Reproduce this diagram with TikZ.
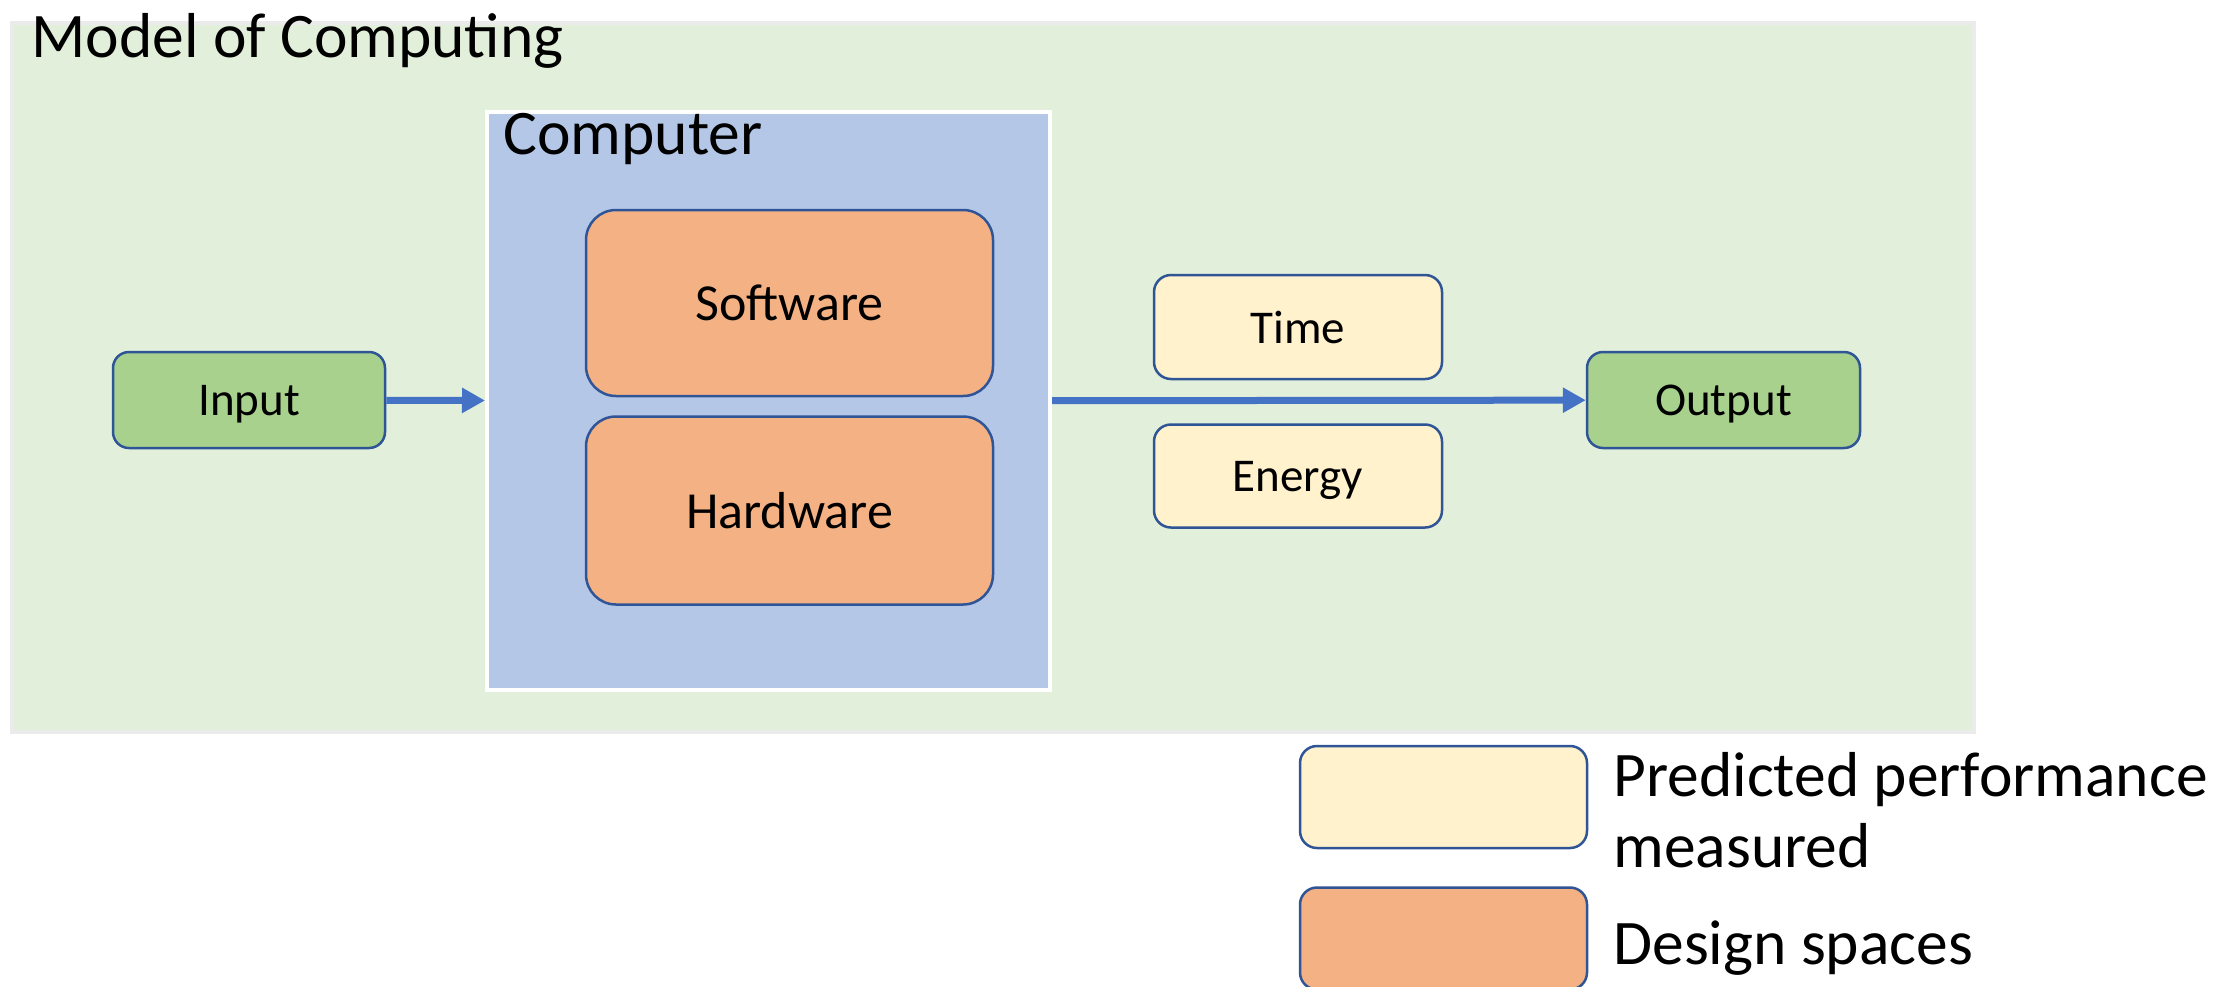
\documentclass[tikz,border=0pt]{standalone}
\usepackage{fontspec}
\setmainfont{Carlito}
\usetikzlibrary{arrows.meta,positioning}

\definecolor{fondo}{HTML}{E2EFDA}
\definecolor{bordefondo}{HTML}{EBEBEB}
\definecolor{azulcomp}{HTML}{B4C7E7}
\definecolor{naranja}{HTML}{F4B183}
\definecolor{crema}{HTML}{FFF2CC}
\definecolor{verde}{HTML}{A9D18E}
\definecolor{borde}{HTML}{2F5597}
\definecolor{azulflecha}{HTML}{4472C4}

\tikzset{
  caja/.style={draw=borde,line width=1.25pt,inner sep=0pt,text depth=0pt},
  iobox/.style={caja,fill=verde,rounded corners=8pt,minimum width=136pt,minimum height=48pt,font=\fontsize{23.5}{28}\selectfont},
  perfbox/.style={caja,fill=crema,rounded corners=8.5pt,minimum width=144pt,minimum height=52pt,font=\fontsize{23.5}{28}\selectfont},
  designbox/.style={caja,fill=naranja,rounded corners=15pt,minimum width=203.5pt,minimum height=93pt,font=\fontsize{26}{30}\selectfont},
  titulo/.style={inner sep=0pt,font=\fontsize{31.75}{35.5}\selectfont},
  link/.style={-{Triangle[length=11.5pt,width=12pt]},azulflecha,line width=3.5pt}
}

\begin{document}
\begin{tikzpicture}[x=0.5pt,y=-0.5pt]
        \useasboundingbox (0,0) rectangle (2236,986);

        % Fondo
        \draw[bordefondo,line width=2pt,fill=fondo] (12,23) rectangle (1974,732);
        \node[titulo,anchor=base west] (modelo) at (31,57) {Model of Computing};

        % Computadora
        \node[draw=white,line width=2pt,fill=azulcomp,minimum width=281.5pt,minimum height=289pt,inner sep=0pt] (comp) at (768.5,401) {};
        \node[titulo,anchor=base west] (complabel) at (503,154) {Computer};
        \node[designbox] (sw) at (789.5,303) {Software};
        \node[designbox,minimum height=94pt,below=9pt of sw] (hw) {Hardware};

        % Entrada y salida
        \node[iobox] (inp) at (249,400) {Input};
        \node[iobox,minimum width=136.5pt] (outp) at (1723.5,400) {Output};

        % Medidas
        \node[perfbox] (time) at (1298,327) {Time};
        \node[perfbox,minimum height=51.5pt,below=21.5pt of time] (energy) {Energy};

        % Flechas
        \draw[link] (inp) -- (comp);
        \draw[link] (comp) -- (outp);

        % Leyenda
        \node[perfbox,minimum width=143.5pt,minimum height=51pt] (leg1) at (1443.5,797) {};
        \node[perfbox,fill=naranja,minimum width=143.5pt,minimum height=51pt,below=18.5pt of leg1] (leg2) {};
        \node[titulo,anchor=base west,align=left] (leg1txt) at (1613,867) {Predicted performance\\measured};
        \node[titulo,anchor=base west] (leg2txt) at (1613,964) {Design spaces};
\end{tikzpicture}
\end{document}
